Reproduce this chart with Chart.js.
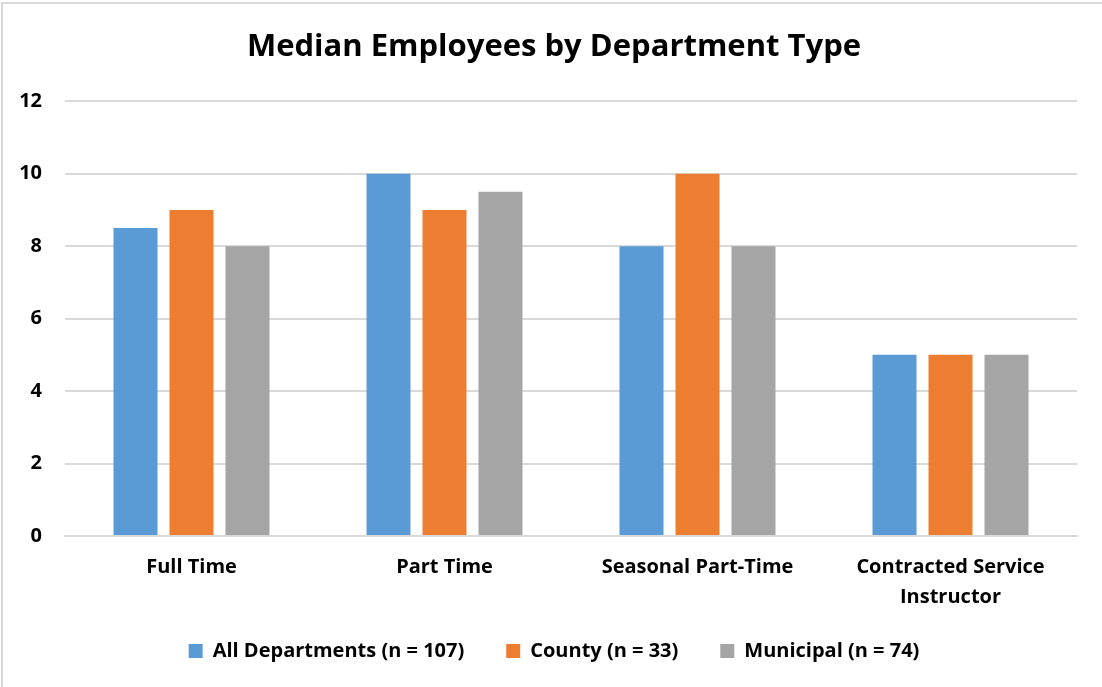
<!DOCTYPE html>
<html>
<head>
<meta charset="utf-8">
<title>Median Employees by Department Type</title>
<script src="https://cdn.jsdelivr.net/npm/chart.js@4"></script>
<style>
  html, body { margin: 0; padding: 0; background: #fff; }
  #frame {
    position: absolute; left: 1px; top: 2px;
    width: 1101px; height: 685px;
    border-top: 2px solid #d9d9d9; border-left: 2px solid #d9d9d9;
    box-sizing: border-box;
  }
  #holder { position: absolute; left: 0; top: 0; width: 1102px; height: 687px; }
</style>
</head>
<body>
<div id="frame"></div>
<div id="holder"><canvas id="chart" width="1102" height="687"></canvas></div>
<script>
// department types along the x axis
var categories = ["Full Time", "Part Time", "Seasonal Part-Time", ["Contracted Service", "Instructor"]];

// median employee counts per series
var allDepartments = [8.5, 10, 8, 5];
var county = [9, 9, 10, 5];
var municipal = [8, 9.5, 8, 5];

var seriesNames = ["All Departments (n = 107)", "County (n = 33)", "Municipal (n = 74)"];
var seriesColors = ["#5b9bd5", "#ed7d31", "#a5a5a5"];

var yTicks = { min: 0, max: 12, step: 2 };

var fontFamily = "'Open Sans', sans-serif";

// tick labels are clipped to their scale box; give them the full canvas edge
var labelRoom = {
    id: "labelRoom",
    afterLayout: function (chart) {
        chart.scales.y.left = 0;
        chart.scales.x.bottom = chart.height;
    }
};

var ctx = document.getElementById("chart").getContext("2d");

var chart = new Chart(ctx, {
    type: "bar",
    data: {
        labels: categories,
        datasets: [allDepartments, county, municipal].map(function (vals, i) {
            return {
                label: seriesNames[i],
                data: vals,
                backgroundColor: seriesColors[i],
                borderWidth: 0,
                categoryPercentage: 0.664,
                barPercentage: 0.786
            };
        })
    },
    plugins: [labelRoom],
    options: {
        responsive: false,
        animation: false,
        layout: { padding: { left: 31, right: 25, top: 10, bottom: 16 } },
        plugins: {
            title: {
                display: true,
                text: "Median Employees by Department Type",
                color: "#000",
                font: { family: fontFamily, size: 31, weight: "bold" },
                padding: { top: 19, bottom: 35 }
            },
            legend: {
                position: "bottom",
                labels: {
                    color: "#000",
                    boxWidth: 14,
                    boxHeight: 14,
                    padding: 42,
                    font: { family: fontFamily, size: 20, weight: "bold" }
                }
            },
            tooltip: { enabled: false }
        },
        scales: {
            x: {
                grid: { display: false, drawTicks: false },
                border: { color: "#d9d9d9", width: 2 },
                afterFit: function (scale) { scale.height = 63; },
                ticks: {
                    color: "#000",
                    padding: 16,
                    maxRotation: 0,
                    font: { family: fontFamily, size: 20, weight: "bold", lineHeight: 1.5 }
                }
            },
            y: {
                min: yTicks.min,
                max: yTicks.max,
                grid: { color: "#d9d9d9", lineWidth: 2, drawTicks: false },
                border: { display: false },
                afterFit: function (scale) { scale.width = 34; },
                ticks: {
                    stepSize: yTicks.step,
                    color: "#000",
                    padding: 23,
                    font: { family: fontFamily, size: 20, weight: "bold" }
                }
            }
        }
    }
});
</script>
</body>
</html>
